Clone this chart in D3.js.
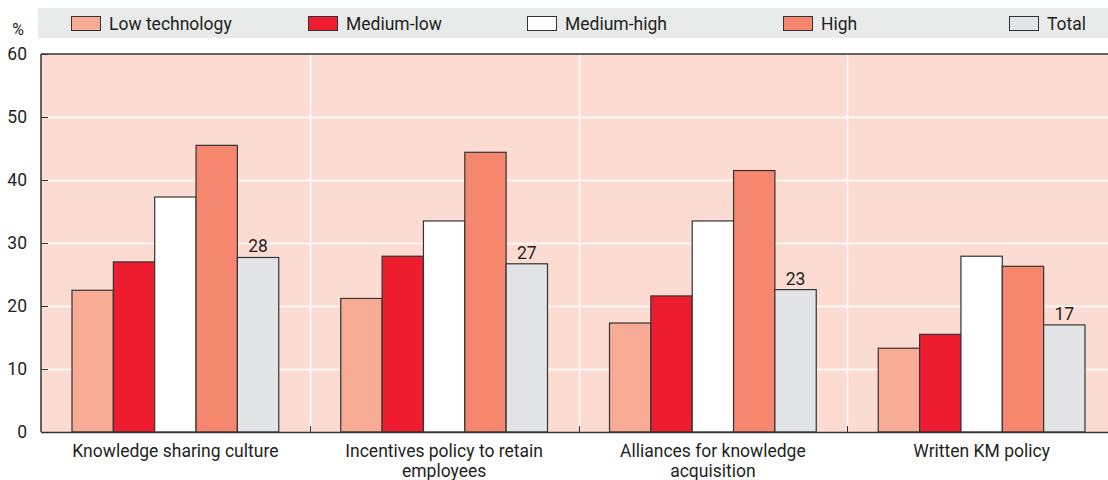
<!DOCTYPE html>
<html>
<head>
<meta charset="utf-8">
<script src="https://cdn.jsdelivr.net/npm/d3@7"></script>
<style>
  body { margin: 0; background: #fff; }
  svg text { font-family: Roboto, "Liberation Sans", sans-serif; fill: #231f20; }
</style>
</head>
<body>
<div id="chart"></div>
<script>
// data
var categories = [
  ["Knowledge sharing culture"],
  ["Incentives policy to retain", "employees"],
  ["Alliances for knowledge", "acquisition"],
  ["Written KM policy"]
];
var series = ["Low technology", "Medium-low", "Medium-high", "High", "Total"];
var lowTech    = [22.5, 21.2, 17.3, 13.3];
var mediumLow  = [27.0, 27.9, 21.6, 15.5];
var mediumHigh = [37.3, 33.5, 33.5, 27.9];
var high       = [45.5, 44.4, 41.5, 26.3];
var total      = [27.7, 26.7, 22.6, 17.0];
var totalLabels = ["28", "27", "23", "17"];
var yTicks = [0, 10, 20, 30, 40, 50, 60];

var colors = ["#f7aa94", "#ed1c2e", "#ffffff", "#f5876e", "#e3e4e6"];
var values = [lowTech, mediumLow, mediumHigh, high, total];

var width = 1108, height = 480;
var margin = { left: 41, right: -8, top: 54, bottom: 48 };
var fs = 17.5;

var svg = d3.select("#chart").append("svg")
    .attr("width", width)
    .attr("height", height);

var x0 = d3.scaleBand()
    .domain(d3.range(categories.length))
    .range([margin.left, width - margin.right]);

var x1 = d3.scaleBand()
    .domain(d3.range(series.length))
    .range([31, x0.bandwidth() - 31]);

var y = d3.scaleLinear()
    .domain([0, 60])
    .range([height - margin.bottom, margin.top]);

// legend band
svg.append("rect")
    .attr("x", 38).attr("y", 8)
    .attr("width", width - 38).attr("height", 30)
    .attr("fill", "#e9eaea");

var legendX = [71, 308, 527, 783, 1009];
var legend = svg.selectAll(".legend")
    .data(series)
    .enter().append("g")
    .attr("class", "legend")
    .attr("transform", function(d, i) { return "translate(" + legendX[i] + ",16)"; });

legend.append("rect")
    .attr("x", 0.5).attr("y", 0.5)
    .attr("width", 29).attr("height", 14)
    .attr("fill", function(d, i) { return colors[i]; })
    .attr("stroke", "#333").attr("stroke-width", 1);

legend.append("text")
    .attr("x", 38).attr("y", 13.5)
    .attr("font-size", fs)
    .text(function(d) { return d; });

// plot background
svg.append("rect")
    .attr("x", margin.left).attr("y", margin.top)
    .attr("width", width - margin.left)
    .attr("height", y(0) - margin.top)
    .attr("fill", "#fcdcd2");

// gridlines
svg.selectAll(".grid")
    .data(yTicks.filter(function(d) { return d > 0 && d < 60; }))
    .enter().append("line")
    .attr("x1", margin.left).attr("x2", width)
    .attr("y1", function(d) { return Math.round(y(d)) + 0.5; })
    .attr("y2", function(d) { return Math.round(y(d)) + 0.5; })
    .attr("stroke", "#fff").attr("stroke-width", 1.5);

// group separators
svg.selectAll(".sep")
    .data(d3.range(1, categories.length))
    .enter().append("line")
    .attr("x1", function(d) { return Math.round(x0(d)) + 0.5; })
    .attr("x2", function(d) { return Math.round(x0(d)) + 0.5; })
    .attr("y1", margin.top).attr("y2", y(0))
    .attr("stroke", "#fff").attr("stroke-width", 1.5);

// bars
var group = svg.selectAll(".group")
    .data(categories)
    .enter().append("g")
    .attr("class", "group")
    .attr("transform", function(d, i) { return "translate(" + x0(i) + ",0)"; });

group.selectAll("rect")
    .data(function(d, gi) {
      return series.map(function(s, si) { return { si: si, v: values[si][gi] }; });
    })
    .enter().append("rect")
    .attr("x", function(d) { return x1(d.si); })
    .attr("y", function(d) { return y(d.v); })
    .attr("width", x1.bandwidth())
    .attr("height", function(d) { return y(0) - y(d.v); })
    .attr("fill", function(d) { return colors[d.si]; })
    .attr("stroke", "#333").attr("stroke-width", 1.2);

// value labels on Total
group.append("text")
    .attr("x", x1(4) + x1.bandwidth() / 2)
    .attr("y", function(d, i) { return y(total[i]) - 5; })
    .attr("text-anchor", "middle")
    .attr("font-size", fs)
    .text(function(d, i) { return totalLabels[i]; });

// y axis
var yAxis = svg.append("g")
    .attr("transform", "translate(" + margin.left + ",0)")
    .call(d3.axisLeft(y).tickValues(yTicks).tickSize(-7).tickPadding(14));
yAxis.select(".domain").remove();
yAxis.selectAll(".tick line").attr("stroke", "#333");
yAxis.selectAll(".tick text")
    .attr("font-size", fs)
    .attr("fill", "#231f20")
    .attr("font-family", null);

svg.append("text")
    .attr("x", 18).attr("y", 35)
    .attr("text-anchor", "middle")
    .attr("font-size", 16)
    .text("%");

// frame lines: top, left, bottom
svg.append("line")
    .attr("x1", margin.left).attr("x2", width)
    .attr("y1", margin.top).attr("y2", margin.top)
    .attr("stroke", "#333").attr("stroke-width", 1.5);
svg.append("line")
    .attr("x1", margin.left).attr("x2", margin.left)
    .attr("y1", margin.top).attr("y2", y(0))
    .attr("stroke", "#333").attr("stroke-width", 1.5);

var xAxis = svg.append("g")
    .attr("transform", "translate(0," + y(0) + ")")
    .call(d3.axisBottom(x0).tickValues([]).tickSizeOuter(0));
xAxis.select(".domain").attr("stroke", "#333").attr("stroke-width", 1.5);

// small ticks at group boundaries
svg.selectAll(".xtick")
    .data(d3.range(1, categories.length))
    .enter().append("line")
    .attr("x1", function(d) { return Math.round(x0(d)) + 0.5; })
    .attr("x2", function(d) { return Math.round(x0(d)) + 0.5; })
    .attr("y1", y(0)).attr("y2", y(0) - 6)
    .attr("stroke", "#333").attr("stroke-width", 1);

// category labels
var cat = svg.selectAll(".cat")
    .data(categories)
    .enter().append("text")
    .attr("class", "cat")
    .attr("text-anchor", "middle")
    .attr("font-size", fs)
    .attr("transform", function(d, i) {
      return "translate(" + (x0(i) + x0.bandwidth() / 2) + "," + (y(0) + 25) + ")";
    });

cat.selectAll("tspan")
    .data(function(d) { return d; })
    .enter().append("tspan")
    .attr("x", 0)
    .attr("dy", function(d, i) { return i === 0 ? 0 : 20; })
    .text(function(d) { return d; });
</script>
</body>
</html>
